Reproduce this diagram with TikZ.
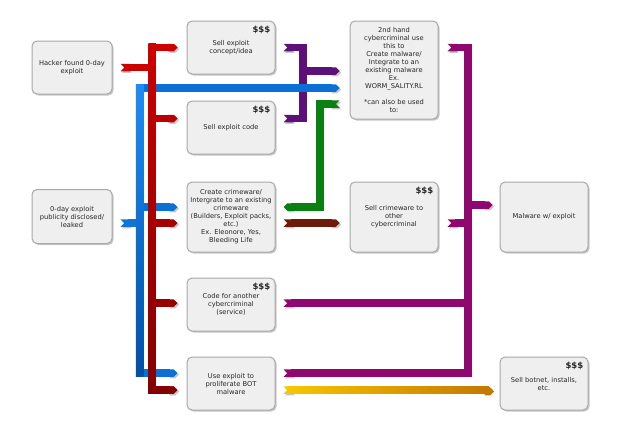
\documentclass[tikz,border=0pt]{standalone}
\usepackage{fontspec}
\setmainfont{DejaVu Sans}
\usetikzlibrary{arrows.meta,shadows,calc}
\definecolor{boxfill}{HTML}{EFEFEF}
\definecolor{boxline}{HTML}{A8A8A8}
\definecolor{txt}{HTML}{262626}
\definecolor{redA}{HTML}{CC0000}
\definecolor{redB}{HTML}{B80000}
\definecolor{redC}{HTML}{A40000}
\definecolor{redD}{HTML}{960000}
\definecolor{redE}{HTML}{840000}
\definecolor{blueA}{HTML}{1E8CF5}
\definecolor{blueB}{HTML}{0A70D5}
\definecolor{blueC}{HTML}{0050A5}
\definecolor{violetC}{HTML}{5C1078}
\definecolor{greenC}{HTML}{0B8012}
\definecolor{brownC}{HTML}{6E1C0A}
\definecolor{magC}{HTML}{8F0870}
\definecolor{goldA}{HTML}{F7C600}
\definecolor{goldB}{HTML}{C47800}
\begin{document}
\begin{tikzpicture}[x=1pt,y=-1pt,
  box/.style={draw=boxline, line width=1pt, fill=boxfill, rounded corners=5pt,
    minimum width=88pt, minimum height=53pt, align=center,
    font=\fontsize{6.7}{8}\selectfont, text=txt, inner sep=1pt,
    drop shadow={shadow xshift=1.5pt, shadow yshift=-1.5pt, fill=black!22, opacity=1}},
  dollars/.style={font=\fontsize{8.5}{9}\selectfont\bfseries, text=black!85, inner sep=0pt, anchor=north east},
  rib/.style={line width=7.5pt, preaction={draw=black!22, transform canvas={shift={(1.5pt,-1.5pt)}}}},
  hh/.style={rib, {Triangle Cap}-{Triangle Cap}},
  th/.style={rib, {Triangle Cap[reversed]}-{Triangle Cap}},
  tt/.style={rib, {Triangle Cap[reversed]}-{Triangle Cap[reversed]}},
  tb/.style={rib, {Triangle Cap[reversed]}-},
  bh/.style={rib, -{Triangle Cap}},
]
\useasboundingbox (0,0) rectangle (620,434);
% boxes
\node[box, minimum width=80pt] (hack) at (72,67.5) {Hacker found 0-day\\exploit};
\node[box, minimum width=80pt, minimum height=54pt] (pub) at (72,216.5) {0-day exploit\\publicity disclosed/\\leaked};
\node[box] (concept) at (231,47.5) {Sell exploit\\concept/idea};
\node[box] (code) at (231,127.5) {Sell exploit code};
\node[box, minimum height=70pt] (crime) at (231,217) {Create crimeware/\\Intergrate to an existing\\crimeware\\(Builders, Exploit packs,\\etc.)\\Ex. Eleonore, Yes,\\Bleeding Life};
\node[box] (service) at (231,304.5) {Code for another\\cybercriminal\\(service)};
\node[box] (bot) at (231,383.5) {Use exploit to\\proliferate BOT\\malware};
\node[box, minimum height=98pt] (second) at (394,70) {2nd hand\\cybercriminal use\\this to\\Create malware/\\Integrate to an\\existing malware\\Ex.\\WORM\_SALITY.RL\\[8pt]*can also be used\\to:};
\node[box, minimum height=70pt] (sellcw) at (394,217) {Sell crimeware to\\other\\cybercriminal};
\node[box, minimum height=70pt] (malware) at (544,217) {Malware w/ exploit};
\node[box] (botnet) at (544,383.5) {Sell botnet, installs,\\etc.};
% price tags
\node[dollars] (d1) at ([xshift=-5pt,yshift=-5pt]concept.north east) {\$\$\$};
\node[dollars] (d2) at ([xshift=-5pt,yshift=-5pt]code.north east) {\$\$\$};
\node[dollars] (d3) at ([xshift=-5pt,yshift=-5pt]service.north east) {\$\$\$};
\node[dollars] (d4) at ([xshift=-5pt,yshift=-5pt]sellcw.north east) {\$\$\$};
\node[dollars] (d5) at ([xshift=-5pt,yshift=-5pt]botnet.north east) {\$\$\$};
% trunk positions
\coordinate (rt) at (152,0);
\coordinate (bt) at (139.5,0);
\coordinate (pt) at (303,0);
\coordinate (gt) at (320,0);
\coordinate (mt) at (468,0);
% connector ends
\coordinate (hackO) at ([xshift=8pt]hack.east);
\coordinate (pubO) at ([xshift=8pt,yshift=-6.5pt]pub.east);
\coordinate (conceptI) at ([xshift=-9pt]concept.west);
\coordinate (conceptO) at ([xshift=8pt]concept.east);
\coordinate (codeI) at ([xshift=-9pt,yshift=9pt]code.west);
\coordinate (codeO) at ([xshift=8pt,yshift=9pt]code.east);
\coordinate (crimeIb) at ([xshift=-9pt,yshift=10pt]crime.west);
\coordinate (crimeIr) at ([xshift=-9pt,yshift=-6pt]crime.west);
\coordinate (crimeOg) at ([xshift=8pt,yshift=10pt]crime.east);
\coordinate (crimeOb) at ([xshift=8pt,yshift=-6pt]crime.east);
\coordinate (serviceI) at ([xshift=-9pt,yshift=1.5pt]service.west);
\coordinate (serviceO) at ([xshift=8pt,yshift=1.5pt]service.east);
\coordinate (botIb) at ([xshift=-9pt,yshift=10.5pt]bot.west);
\coordinate (botIr) at ([xshift=-9pt,yshift=-6.5pt]bot.west);
\coordinate (botOm) at ([xshift=8pt,yshift=10.5pt]bot.east);
\coordinate (botOg) at ([xshift=8pt,yshift=-6.5pt]bot.east);
\coordinate (secIp) at ([xshift=-10pt,yshift=-1pt]second.west);
\coordinate (secIb) at ([xshift=-10pt,yshift=-18pt]second.west);
\coordinate (secIg) at ([xshift=-10pt,yshift=-34pt]second.west);
\coordinate (secO) at ([xshift=9pt,yshift=22.5pt]second.east);
\coordinate (sellcwI) at ([xshift=-10pt,yshift=-6pt]sellcw.west);
\coordinate (sellcwO) at ([xshift=9pt,yshift=-6pt]sellcw.east);
\coordinate (malI) at ([xshift=-7pt,yshift=12pt]malware.west);
\coordinate (botnetI) at ([xshift=-7pt,yshift=-6.5pt]botnet.west);
% violet
\draw[bh, violetC] (pt |- secIp) -- (secIp);
\draw[tt, violetC] (conceptO) -- (pt |- conceptO) -- (pt |- codeO) -- (codeO);
% blue
\draw[tb, blueA!60!blueC] (pubO) -- (bt |- pubO);
\draw[bh, blueB] (bt |- crimeIb) -- (crimeIb);
\draw[hh, blueB] (secIb) -- (bt |- secIb) -- (bt |- botIb) -- (botIb);
\shade[top color=blueA, bottom color=blueC] ($(bt |- secIb)+(-3.75,-3.75)$) rectangle ($(bt |- botIb)+(3.75,3.75)$);
% red
\draw[tb, redA] (hackO) -- (rt |- hackO);
\draw[bh, redB] (rt |- codeI) -- (codeI);
\draw[bh, redC] (rt |- crimeIr) -- (crimeIr);
\draw[bh, redD] (rt |- serviceI) -- (serviceI);
\draw[hh, redA] (conceptI) -- (rt |- conceptI) -- (rt |- botIr) -- (botIr);
\draw[bh, redE] (rt |- botIr) -- (botIr);
\shade[top color=redA, bottom color=redE] ($(rt |- conceptI)+(-3.75,-3.75)$) rectangle ($(rt |- botIr)+(3.75,3.75)$);
% green
\draw[th, greenC] (secIg) -- (gt |- secIg) -- (gt |- crimeOg) -- (crimeOg);
% brown
\draw[th, brownC] (crimeOb) -- (sellcwI);
% magenta
\draw[bh, magC] (mt |- malI) -- (malI);
\draw[tb, magC] (sellcwO) -- (mt |- sellcwO);
\draw[tb, magC] (serviceO) -- (mt |- serviceO);
\draw[tt, magC] (secO) -- (mt |- secO) -- (mt |- botOm) -- (botOm);
% gold
\draw[rib, goldA, {Triangle Cap[reversed]}-{Triangle Cap[color=goldB]}] (botOg) -- (botnetI);
\shade[left color=goldA, right color=goldB] ($(botOg)+(3.75,-3.75)$) rectangle ($(botnetI)+(-3.75,3.75)$);
\end{tikzpicture}
\end{document}
